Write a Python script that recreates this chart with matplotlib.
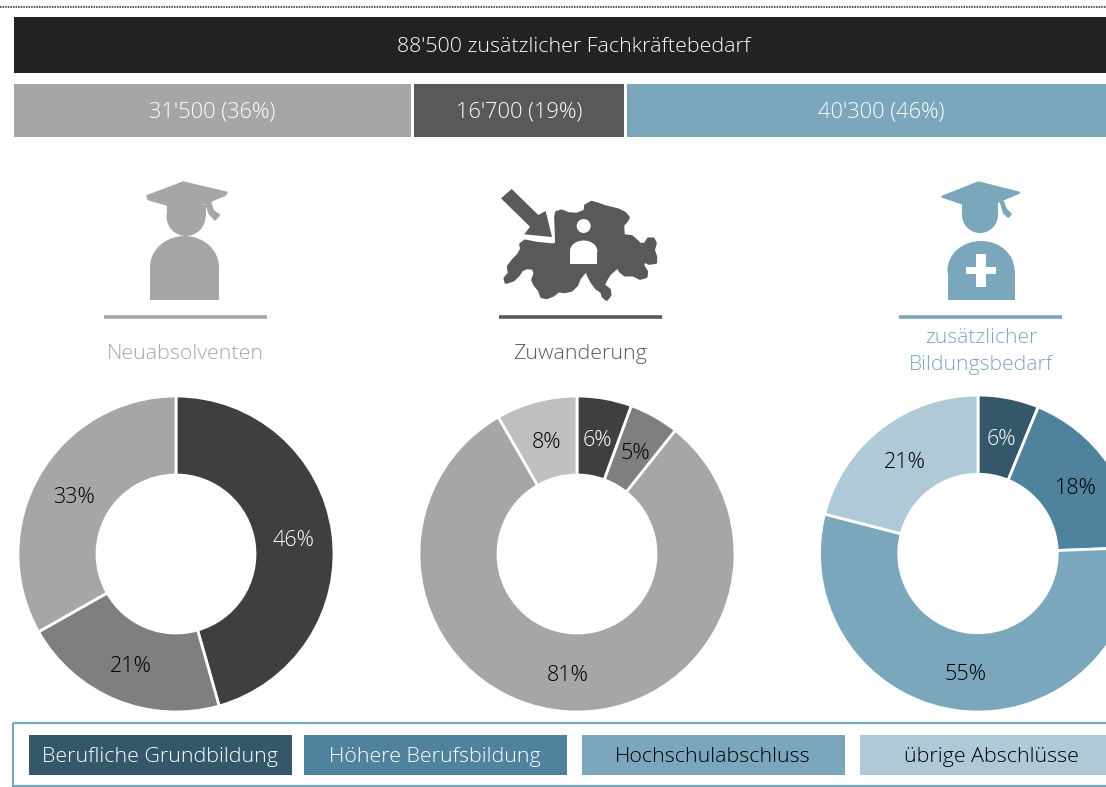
import matplotlib
matplotlib.use('Agg')
import matplotlib.pyplot as plt
from matplotlib.patches import Circle, Ellipse, Polygon, Rectangle

plt.rcParams['font.family'] = ['Open Sans', 'DejaVu Sans']
plt.rcParams['font.weight'] = 'light'

W, H = 1106, 787

TOTAL_LABEL = "88'500 zusätzlicher Fachkräftebedarf"
source_values = [31500, 16700, 40300]
source_labels = ["31'500 (36%)", "16'700 (19%)", "40'300 (46%)"]
source_colors = ['#a6a6a6', '#595959', '#7ba7bd']

legend_labels = ['Berufliche Grundbildung', 'Höhere Berufsbildung',
                 'Hochschulabschluss', 'übrige Abschlüsse']
legend_colors = ['#34586a', '#4f829c', '#7ba7bd', '#b0c9d7']
legend_text = ['white', 'white', 'black', 'black']

neu_values = [45.6, 21.2, 33.2]
neu_colors = ['#3f3f3f', '#7f7f7f', '#a6a6a6']
neu_text = ['white', 'black', 'black']

zuw_values = [5.6, 5.1, 81.0, 8.3]
zuw_colors = ['#3f3f3f', '#7f7f7f', '#a6a6a6', '#bfbfbf']
zuw_text = ['white', 'black', 'black', 'black']

bil_values = [6.2, 18.2, 54.6, 21.0]
bil_colors = ['#34586a', '#4f829c', '#7ba7bd', '#b0c9d7']
bil_text = ['white', 'black', 'black', 'black']


def add_px_axes(fig, x0, y0, x1, y1):
    # rectangle in image pixels, y pointing down
    return fig.add_axes([x0 / W, 1 - y1 / H, (x1 - x0) / W, (y1 - y0) / H])


def draw_donut(fig, cx, cy, values, colors, text_colors, r=158):
    size = r * 1.25
    ax = add_px_axes(fig, cx - size, cy - size, cx + size, cy + size)
    wedges, _, autotexts = ax.pie(
        values, colors=colors, startangle=90, counterclock=False,
        autopct='%.0f%%', pctdistance=0.75,
        wedgeprops={'width': 0.5, 'edgecolor': 'white', 'linewidth': 2},
        textprops={'fontsize': 15.5},
    )
    for t, c in zip(autotexts, text_colors):
        t.set_color(c)
        x, y = t.get_position()
        t.set_position((x, y - 3 / r))
    ax.set_xlim(-1.25, 1.25)
    ax.set_ylim(-1.25, 1.25)


def zoomed(pts, x0, y0):
    return [(x0 + x / 3, y0 + y / 3) for x, y in pts]


def draw_grad_person(ax, color, cap, tassel, head, body):
    ax.add_patch(Polygon(cap, closed=True, fc=color, ec=color, lw=1.5, joinstyle='round'))
    ax.add_patch(Polygon(tassel, closed=True, fc=color, ec=color, lw=0.5))
    hx, hy, hr = head
    ax.add_patch(Circle((hx, hy), hr, fc=color, ec='none'))
    # sides of the head run straight up into the cap
    ax.add_patch(Rectangle((hx - hr, hy - 12), 2 * hr, 12, fc=color, ec='none'))
    x0, x1, top, shoulder, bottom = body
    ax.add_patch(Ellipse(((x0 + x1) / 2, shoulder), x1 - x0, 2 * (shoulder - top), fc=color, ec='none'))
    ax.add_patch(Rectangle((x0, shoulder), x1 - x0, bottom - shoulder, fc=color, ec='none'))


def draw_swiss(ax, color):
    outline = [(197, 125), (200, 112), (215, 108), (235, 116), (260, 118), (285, 108),
               (287, 92), (305, 82), (325, 88), (345, 95), (365, 100), (385, 105),
               (405, 115), (415, 128), (408, 140), (398, 150), (400, 182), (425, 185),
               (440, 198), (450, 208), (465, 208), (475, 192), (490, 192), (496, 205),
               (490, 225), (497, 245), (497, 262), (478, 265), (462, 258), (458, 272),
               (470, 290), (468, 305), (450, 310), (430, 300), (405, 300), (392, 290),
               (383, 275), (372, 285), (360, 295), (350, 310), (340, 330), (358, 345),
               (360, 360), (350, 373), (340, 365), (335, 350), (320, 340), (305, 320),
               (295, 300), (290, 285), (280, 295), (268, 310), (260, 330), (245, 345),
               (225, 350), (205, 348), (190, 360), (170, 368), (155, 365), (148, 345),
               (135, 330), (128, 315), (135, 295), (130, 280), (110, 278), (95, 285),
               (85, 300), (70, 315), (48, 322), (45, 310), (58, 295), (55, 275),
               (70, 255), (85, 240), (95, 222), (92, 208), (105, 198), (140, 205),
               (190, 210), (200, 205)]
    arrow = [(33, 70), (65, 42), (145, 120), (167, 108), (186, 186), (103, 178), (120, 155)]
    ax.add_patch(Polygon(zoomed(outline, 490, 175), closed=True, fc=color, ec=color, lw=2.2, joinstyle='round'))
    ax.add_patch(Polygon(zoomed(arrow, 490, 175), closed=True, fc=color, ec='none'))
    ax.add_patch(Circle((490 + 281 / 3, 175 + 153 / 3), 7, fc='white', ec='none'))
    ax.add_patch(Ellipse((490 + 281 / 3, 251), 82 / 3, 21, fc='white', ec='none'))
    ax.add_patch(Rectangle((490 + 240 / 3, 251), 82 / 3, 12.5, fc='white', ec='none'))


def draw_chart():
    fig = plt.figure(figsize=(W / 100, H / 100), dpi=100)

    # source bars share one scale, the last one runs off the right edge
    bars = add_px_axes(fig, 14, 17, W, 137)
    px_per_unit = 0.0126
    gap = 3 / px_per_unit
    bars.set_xlim(0, (W - 14) / px_per_unit)
    bars.set_ylim(120, 0)
    bars.axis('off')
    full = sum(source_values) + gap * (len(source_values) - 1)
    bars.barh(28, full, height=56, left=0, color='#222222')
    bars.text(full / 2 - 80, 30, TOTAL_LABEL, color='white', fontsize=15.4, ha='center', va='center')
    left = 0
    for val, lab, col in zip(source_values, source_labels, source_colors):
        bars.barh(93.5, val, height=53, left=left, color=col)
        bars.text(left + val / 2, 95, lab, color='white', fontsize=15.7, ha='center', va='center')
        left += val + gap

    ax = fig.add_axes([0, 0, 1, 1], facecolor='none')
    ax.set_xlim(0, W)
    ax.set_ylim(H, 0)
    ax.axis('off')

    ax.plot([0, W], [6.5, 6.5], color='#222222', lw=1.1, ls=(0, (1, 0.7)))

    # icons
    grey = source_colors[0]
    cap1 = zoomed([(250, 37), (380, 68), (375, 75), (315, 100), (255, 110), (200, 104), (145, 88), (142, 78)], 100, 170)
    tassel1 = zoomed([(316, 100), (333, 96), (340, 120), (360, 135), (345, 152), (327, 132)], 100, 170)
    draw_grad_person(ax, grey, cap1, tassel1, (186, 216.5, 19.5), (150, 219, 236, 267, 299.5))

    draw_swiss(ax, source_colors[1])

    blue = source_colors[2]
    cap3 = zoomed([(265, 37), (388, 68), (325, 95), (270, 106), (215, 100), (157, 80)], 890, 170)
    tassel3 = zoomed([(330, 95), (340, 92), (350, 118), (365, 132), (355, 143), (340, 130)], 890, 170)
    draw_grad_person(ax, blue, cap3, tassel3, (980, 215, 18), (947.5, 1014.5, 241, 270, 299.5))
    ax.add_patch(Rectangle((976, 254), 9.5, 33, fc='white', ec='none'))
    ax.add_patch(Rectangle((966, 267), 30, 6.5, fc='white', ec='none'))

    # rules and headings below the icons
    for x0, col in zip([104, 499, 899], source_colors):
        ax.plot([x0, x0 + 163], [317, 317], color=col, lw=2.6, solid_capstyle='butt')
    ax.text(185.5, 359, 'Neuabsolventen', color=source_colors[0], fontsize=15.4, ha='center', va='baseline')
    ax.text(580, 359, 'Zuwanderung', color=source_colors[1], fontsize=15.4, ha='center', va='baseline')
    ax.text(981, 343, 'zusätzlicher', color=source_colors[2], fontsize=15.2, ha='center', va='baseline')
    ax.text(981, 370, 'Bildungsbedarf', color=source_colors[2], fontsize=15.2, ha='center', va='baseline')

    # legend strip
    ax.add_patch(Rectangle((12.5, 722.5), 1130, 63, fc='none', ec='#7ba7bd', lw=1.6))
    for x0, lab, col, tcol in zip([29, 304, 582, 860], legend_labels, legend_colors, legend_text):
        ax.add_patch(Rectangle((x0, 735), 263, 40, fc=col, ec='none'))
        ax.text(x0 + 131, 757, lab, color=tcol, fontsize=15.4, ha='center', va='center')

    draw_donut(fig, 176, 554, neu_values, neu_colors, neu_text)
    draw_donut(fig, 577, 554, zuw_values, zuw_colors, zuw_text)
    draw_donut(fig, 978, 553.5, bil_values, bil_colors, bil_text, r=158.5)

    fig.savefig('out.png', dpi=100)


if __name__ == '__main__':
    draw_chart()
